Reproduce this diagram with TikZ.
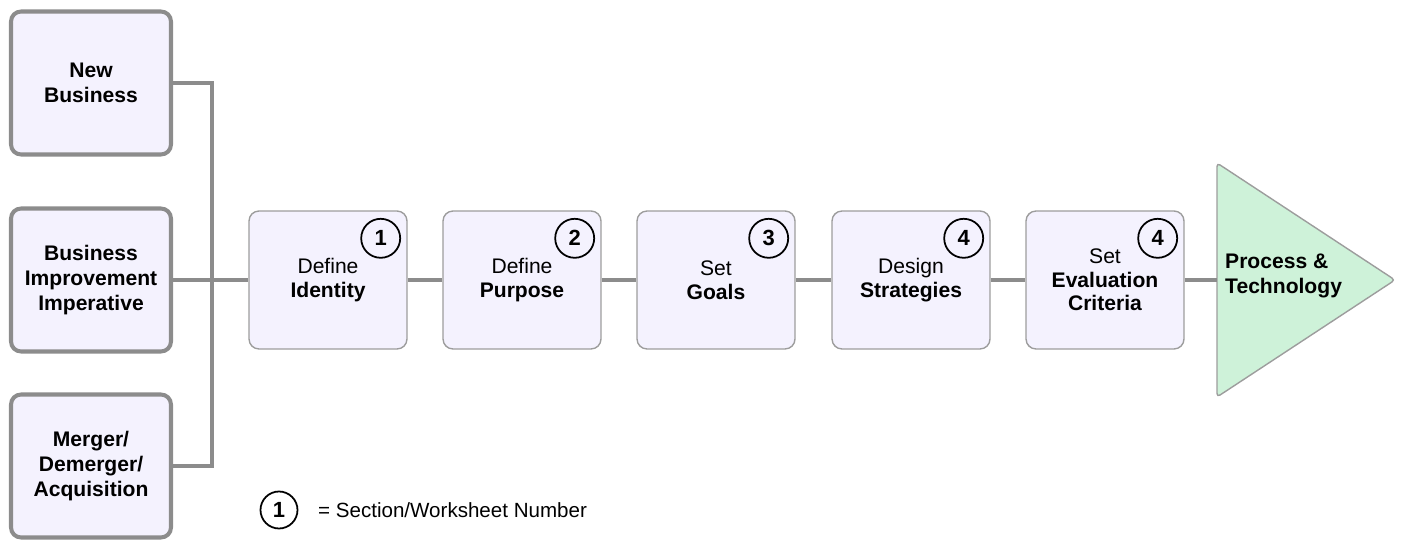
\documentclass[tikz,border=0pt]{standalone}
\usepackage{fontspec}
\setmainfont{Liberation Sans}
\usetikzlibrary{positioning}
\definecolor{boxfill}{HTML}{F4F2FE}
\definecolor{boxline}{HTML}{8C8C8C}
\definecolor{trifill}{HTML}{CEF2D9}
\tikzset{
  srcbox/.style={draw=boxline, line width=2.3pt, fill=boxfill, rounded corners=0.2cm,
    minimum width=3.2cm, minimum height=2.86cm, align=center,
    font=\fontsize{12}{14.4}\selectfont\bfseries},
  stepbox/.style={draw=boxline!85, line width=0.8pt, fill=boxfill, rounded corners=0.2cm,
    minimum width=3.16cm, minimum height=2.76cm, align=center,
    font=\fontsize{12}{13.4}\selectfont},
  numcirc/.style={draw, circle, line width=1pt, minimum size=0.78cm, inner sep=0pt,
    font=\fontsize{12.5}{14}\selectfont\bfseries},
  conn/.style={draw=boxline, line width=1.8pt}
}

\begin{document}
\begin{tikzpicture}[x=0.02cm, y=-0.02cm]
      \useasboundingbox (0, 0) rectangle (1403, 540);

      % starting points
      \node [srcbox] (newbiz) at (91, 83) {New\\Business};
      \node [srcbox] (improve) at (91, 280) {Business\\Improvement\\Imperative};
      \node [srcbox] (merger) at (91, 466) {Merger/\\Demerger/\\Acquisition};

      % steps
      \node [stepbox] (ident) at (328, 280) {Define\\\textbf{Identity}};
      \node [stepbox] (purp) at (522, 280) {Define\\\textbf{Purpose}};
      \node [stepbox] (goals) at (716, 280) {Set\\\textbf{Goals}};
      \node [stepbox] (strat) at (911, 280) {Design\\\textbf{Strategies}};
      \node [stepbox] (evalc) at (1105, 280) {Set\\\textbf{Evaluation}\\\textbf{Criteria}};

      \node [numcirc] at ([xshift=-0.54cm, yshift=-0.56cm]ident.north east) {1};
      \node [numcirc] at ([xshift=-0.54cm, yshift=-0.56cm]purp.north east) {2};
      \node [numcirc] at ([xshift=-0.54cm, yshift=-0.56cm]goals.north east) {3};
      \node [numcirc] at ([xshift=-0.54cm, yshift=-0.56cm]strat.north east) {4};
      \node [numcirc] at ([xshift=-0.54cm, yshift=-0.56cm]evalc.north east) {4};

      % outcome
      \draw [draw=boxline!85, fill=trifill, line width=0.8pt, rounded corners=2pt]
        (1217, 163) -- (1395, 280) -- (1217, 397) -- cycle;
      \coordinate (tri) at (1217, 280);
      \node [anchor=west, align=left, font=\fontsize{12}{14}\selectfont\bfseries] (ptech) at (1219, 276) {Process \&\\Technology};

      % connectors
      \coordinate (bus) at (212, 280);
      \draw [conn] (newbiz.east) -| (bus) |- (merger.east);
      \draw [conn] (improve.east) -- (ident.west);
      \draw [conn] (ident.east) -- (purp.west);
      \draw [conn] (purp.east) -- (goals.west);
      \draw [conn] (goals.east) -- (strat.west);
      \draw [conn] (strat.east) -- (evalc.west);
      \draw [conn] (evalc.east) -- (tri);

      % key
      \node [numcirc, minimum size=0.74cm] (key) at (279, 510) {1};
      \node [anchor=west, font=\fontsize{11.7}{13}\selectfont] (keytext) at (312, 510) {= Section/Worksheet Number};
    \end{tikzpicture}
\end{document}
